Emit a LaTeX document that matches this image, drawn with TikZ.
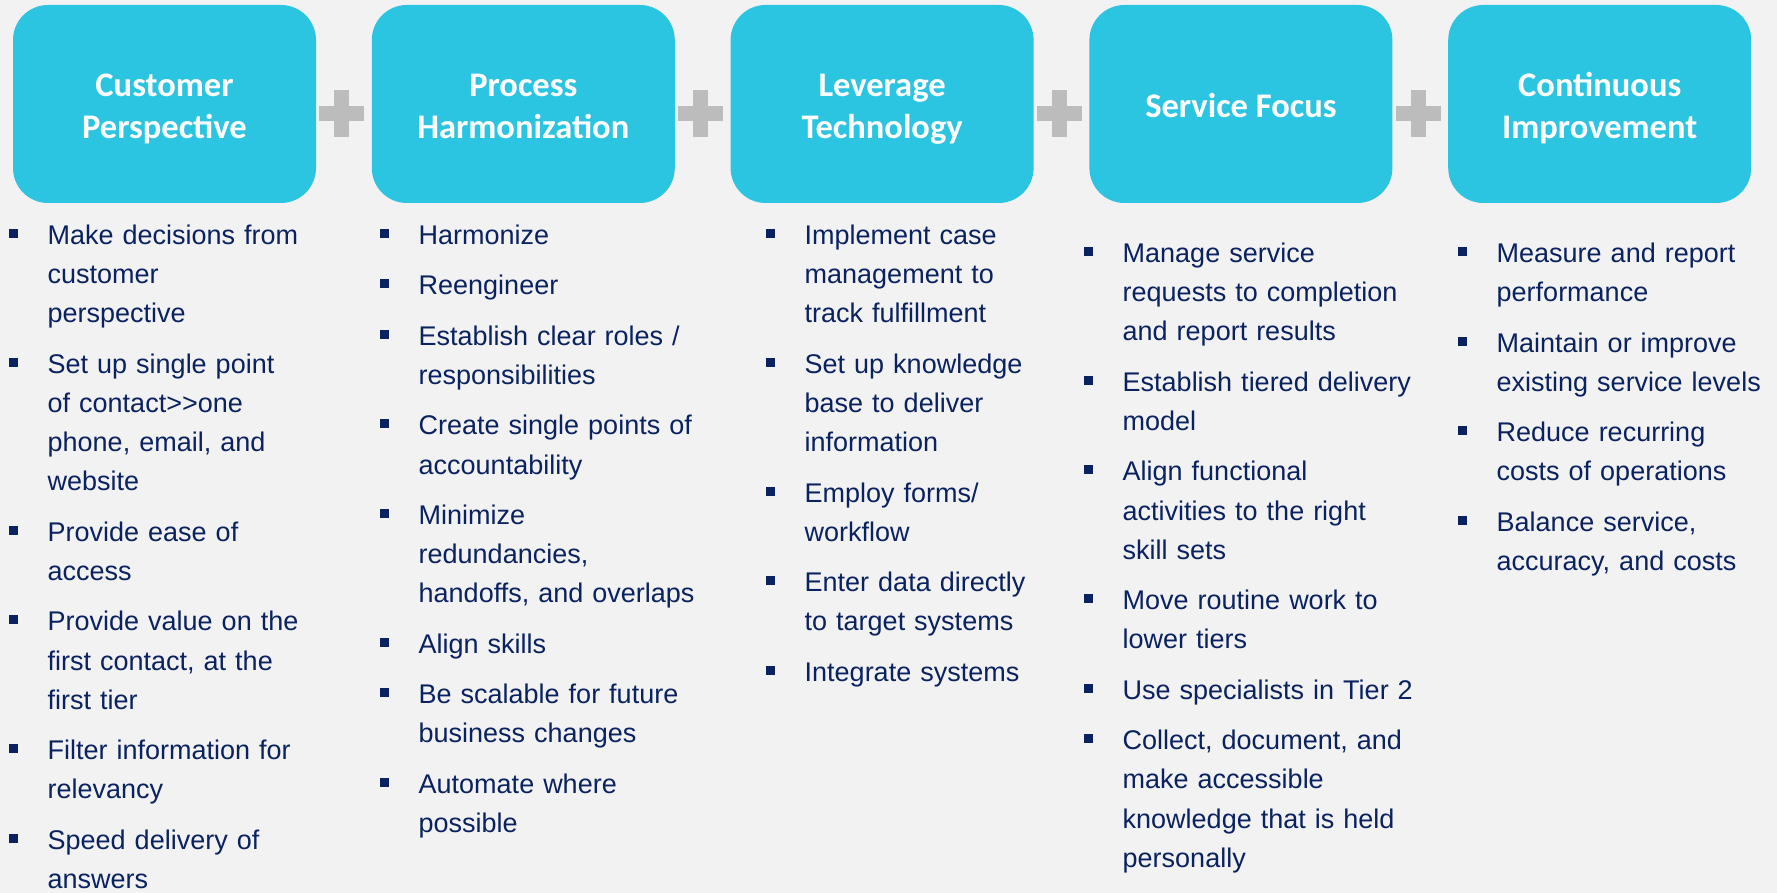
\documentclass[tikz,border=0pt]{standalone}
\usepackage{fontspec}
\setmainfont{Liberation Sans}
\newfontfamily\titlefont{Carlito}
\usetikzlibrary{positioning,calc}

\definecolor{pagebg}{HTML}{F2F2F2}
\definecolor{boxcyan}{HTML}{2CC5E1}
\definecolor{plusgrey}{HTML}{BCBCBC}
\definecolor{navytext}{HTML}{0A2260}

\tikzset{
  stepbox/.style={fill=boxcyan, rounded corners=35pt, minimum width=303pt,
    minimum height=198pt, inner sep=0pt, align=center, text=white,
    font=\titlefont\bfseries\fontsize{34.5}{42}\selectfont},
  bulletlist/.style={anchor=north west, inner sep=0pt, text width=360pt,
    align=left, text=navytext, font=\fontsize{27}{39.2}\selectfont,
    execute at begin node=\setlength{\parskip}{11.2pt}}
}

% first line of a header, a bit taller than a strut
\newcommand{\hstrut}{\rule[-12.6pt]{0pt}{52pt}}
% one bullet point, lines broken by hand
\newcommand{\bitem}[1]{\par\noindent\hangindent=38.5pt\hangafter=1%
  \rlap{\rule[6.5pt]{9pt}{9pt}}\hspace{38.5pt}\strut#1\par}

\begin{document}
\begin{tikzpicture}[x=1pt,y=1pt,yscale=-1,xscale=1,node distance=55.4pt]
\path[use as bounding box, fill=pagebg] (0,0) rectangle (1777,893);
%Shape: Rounded Rect headers
\node[stepbox] (cust) at (164.5,104) {\hstrut Customer\\Perspective\strut};
\node[stepbox, right=of cust] (proc) {\hstrut Process\\Harmonization\strut};
\node[stepbox, right=of proc] (tech) {\hstrut Leverage\\Technology\strut};
\node[stepbox, right=of tech] (serv) {\hstrut Service Focus};
\node[stepbox, right=of serv] (impr) {\hstrut Continuous\\Improvement\strut};
%Shape: Plus signs
\foreach \a/\b in {cust/proc, proc/tech, tech/serv, serv/impr}{
  \coordinate (m) at ($(\a.east)!0.5!(\b.west)+(-2,9.5)$);
  \fill[plusgrey] ($(m)+(-22.5,-7.5)$) rectangle ($(m)+(22.5,7.5)$);
  \fill[plusgrey] ($(m)+(-7.5,-23.5)$) rectangle ($(m)+(7.5,23.5)$);
}
%Text: bullet lists
\node[bulletlist] (custlist) at (9,194) {%
  \bitem{Make decisions from\newline customer\newline perspective}
  \bitem{Set up single point\newline of contact{>}{>}one\newline phone, email, and\newline website}
  \bitem{Provide ease of\newline access}
  \bitem{Provide value on the\newline first contact, at the\newline first tier}
  \bitem{Filter information for\newline relevancy}
  \bitem{Speed delivery of\newline answers}};
\node[bulletlist] (proclist) at (380,194) {%
  \bitem{Harmonize}
  \bitem{Reengineer}
  \bitem{Establish clear roles /\newline responsibilities}
  \bitem{Create single points of\newline accountability}
  \bitem{Minimize\newline redundancies,\newline handoffs, and overlaps}
  \bitem{Align skills}
  \bitem{Be scalable for future\newline business changes}
  \bitem{Automate where\newline possible}};
\node[bulletlist] (techlist) at (766,194) {%
  \bitem{Implement case\newline management to\newline track fulfillment}
  \bitem{Set up knowledge\newline base to deliver\newline information}
  \bitem{Employ forms/\newline workflow}
  \bitem{Enter data directly\newline to target systems}
  \bitem{Integrate systems}};
\node[bulletlist] (servlist) at (1084,212) {%
  \bitem{Manage service\newline requests to completion\newline and report results}
  \bitem{Establish tiered delivery\newline model}
  \bitem{Align functional\newline activities to the right\newline skill sets}
  \bitem{Move routine work to\newline lower tiers}
  \bitem{Use specialists in Tier 2}
  \bitem{Collect, document, and\newline make accessible\newline knowledge that is held\newline personally}};
\node[bulletlist] (imprlist) at (1458,212) {%
  \bitem{Measure and report\newline performance}
  \bitem{Maintain or improve\newline existing service levels}
  \bitem{Reduce recurring\newline costs of operations}
  \bitem{Balance service,\newline accuracy, and costs}};
\end{tikzpicture}
\end{document}
